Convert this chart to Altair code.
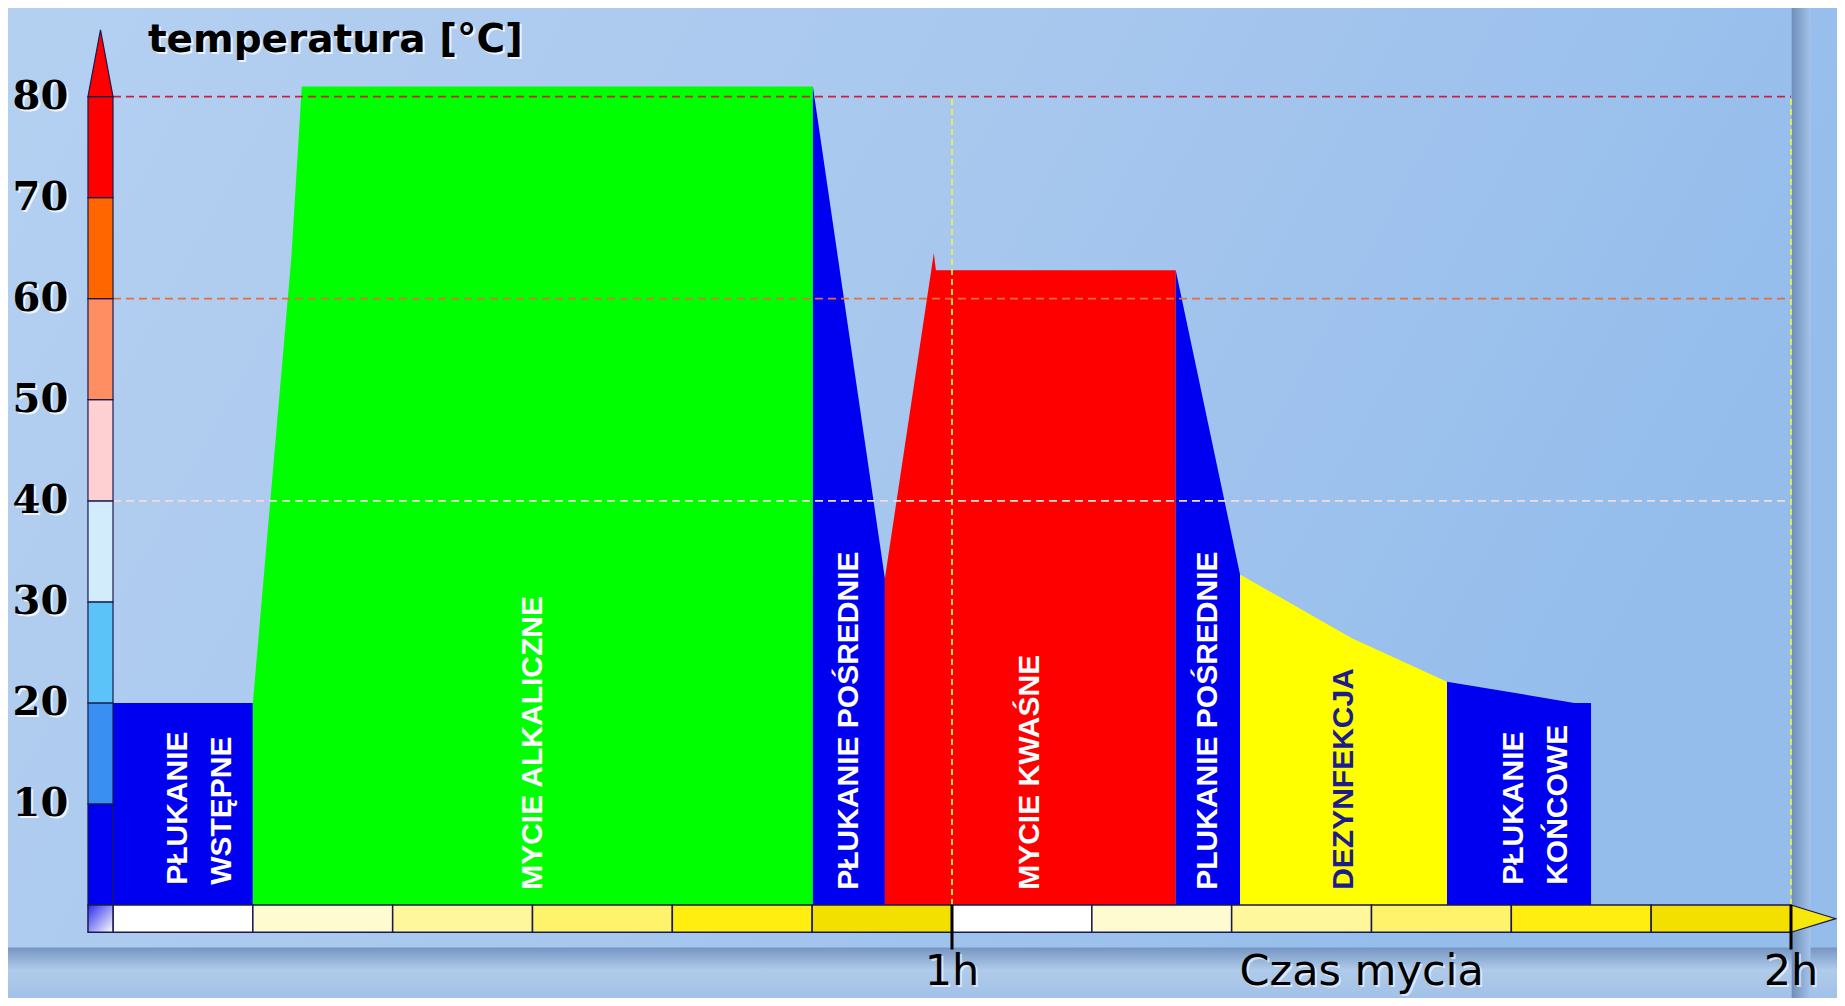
import altair as alt
import pandas as pd

# ---------------- data ----------------
phase_names = ["Płukanie wstępne", "Mycie alkaliczne", "Płukanie pośrednie I", "Mycie kwaśne",
               "Płukanie pośrednie II", "Dezynfekcja", "Płukanie końcowe"]
phase_colors = ["#0000f0", "#00ff00", "#0000f0", "#ff0000", "#0000f0", "#ffff00", "#0000f0"]
phase_t = [[0, 10], [10, 12.75, 13.5, 50.05], [50.05, 55.2], [55.2, 58.7, 58.85, 76.0],
           [76.0, 80.6], [80.6, 88.6, 95.4], [95.4, 104.5, 105.7]]
phase_temp = [[20, 20], [20, 64, 81, 81], [81, 32.3], [32.3, 64.5, 62.8, 62.8],
              [62.8, 32.7], [32.7, 26.4, 22.1], [22.1, 20.0, 20.0]]
label_text = ["PŁUKANIE\nWSTĘPNE", "MYCIE ALKALICZNE", "PŁUKANIE POŚREDNIE", "MYCIE KWAŚNE",
              "PLUKANIE POŚREDNIE", "DEZYNFEKCJA", "PŁUKANIE\nKOŃCOWE"]
label_color = ["#ffffff", "#ffffff", "#ffffff", "#ffffff", "#ffffff", "#1c1c8a", "#ffffff"]

y_ticks = [10, 20, 30, 40, 50, 60, 70, 80]
thermo_colors = ["#0000f0", "#3a8ff2", "#5cc3f8", "#d3ecfc", "#ffd0d2", "#ff8f62", "#ff6600", "#ff0000"]
bar_colors = ["#ffffff", "#fffbd0", "#fff79c", "#fff36c", "#ffee10", "#f3e000",
              "#ffffff", "#fffbd0", "#fff79c", "#fff36c", "#ffee10", "#f3e000"]
hour_values = [60, 120]
hour_labels = ["1h", "2h"]
ref_temps = [80, 60, 40]
ref_colors = ["#c8203e", "#e0703c", "#f4dada"]
x_title = "Czas mycia"
y_title = "temperatura [°C]"

# ---------------- layout ----------------
W, H = 1829, 990
XMIN, XMAX = -7.509, 123.29
YMIN, YMAX = -9.20, 88.76
xs = alt.Scale(domain=[XMIN, XMAX], nice=False, zero=False)
ys = alt.Scale(domain=[YMIN, YMAX], nice=False, zero=False)
NAVY = "#1a1a50"
TH_L, TH_R = -1.79, 0.0
BAR_B = -2.7

def X(f):
    return alt.X(f, scale=xs, axis=None)

def Y(f):
    return alt.Y(f, scale=ys, axis=None)

one = pd.DataFrame({"a": [0]})

# background gradient
bg = alt.Chart(one).mark_rect(
    fill=alt.Gradient(gradient="linear",
                      stops=[alt.GradientStop(color="#b4d0f1", offset=0),
                             alt.GradientStop(color="#a9c8ee", offset=0.5),
                             alt.GradientStop(color="#94bdec", offset=1)],
                      x1=0, y1=0, x2=1, y2=0.3)
).encode(x=alt.value(0), x2=alt.value(W), y=alt.value(0), y2=alt.value(H))

band = alt.Chart(pd.DataFrame({"t0": [XMIN], "t1": [XMAX], "y0": [-4.2], "y1": [YMIN]})).mark_rect(
    fill=alt.Gradient(gradient="linear",
                      stops=[alt.GradientStop(color="#7595c2", offset=0),
                             alt.GradientStop(color="#b0cbea", offset=0.45),
                             alt.GradientStop(color="#a2c1e8", offset=1)],
                      x1=0, y1=0, x2=0, y2=1)
).encode(x=X("t0:Q"), x2="t1:Q", y=Y("y0:Q"), y2="y1:Q")

strip = alt.Chart(pd.DataFrame({"t0": [120.05], "t1": [121.4], "y0": [YMAX], "y1": [YMIN]})).mark_rect(
    fill=alt.Gradient(gradient="linear",
                      stops=[alt.GradientStop(color="#6f8fba", offset=0),
                             alt.GradientStop(color="#a4c3ea", offset=1)],
                      x1=0, y1=0, x2=1, y2=0)
).encode(x=X("t0:Q"), x2="t1:Q", y=Y("y0:Q"), y2="y1:Q")

# phase areas
rows = []
for name, ts, tv in zip(phase_names, phase_t, phase_temp):
    for t, v in zip(ts, tv):
        rows.append({"phase": name, "t": t, "temp": v, "base": 0})
areas_df = pd.DataFrame(rows)
areas = alt.Chart(areas_df).mark_area(interpolate="linear").encode(
    x=X("t:Q"), y=alt.Y("temp:Q", scale=ys, axis=None, stack=None), y2="base:Q",
    color=alt.Color("phase:N", scale=alt.Scale(domain=phase_names, range=phase_colors), legend=None),
)

# labels
centers = [(ts[0] + ts[-1]) / 2 for ts in phase_t]
lab_df = pd.DataFrame({"t": centers, "temp": [1.5] * len(centers), "txt": label_text, "lc": label_color})
single = lab_df[~lab_df["txt"].str.contains("\n")]
double = lab_df[lab_df["txt"].str.contains("\n")].assign(temp=2.0)
lab_font = "Liberation Sans, Arial, sans-serif"
labels1 = alt.Chart(single).mark_text(angle=270, align="left", baseline="middle", font=lab_font,
                                      fontSize=30, fontWeight="bold").encode(
    x=X("t:Q"), y=Y("temp:Q"), text="txt:N", color=alt.Color("lc:N", scale=None))
labels2 = alt.Chart(double).mark_text(angle=270, align="left", baseline="middle", font=lab_font,
                                      fontSize=30, fontWeight="bold", lineBreak="\n", lineHeight=44,
                                      dy=-5).encode(
    x=X("t:Q"), y=Y("temp:Q"), text="txt:N", color=alt.Color("lc:N", scale=None))

# dashed reference lines
h_df = pd.DataFrame({"temp": ref_temps, "c": ref_colors, "t0": [0] * 3, "t1": [120] * 3})
hlines = alt.Chart(h_df).mark_rule(strokeDash=[8, 5], strokeWidth=1.8).encode(
    y=Y("temp:Q"), x=X("t0:Q"), x2="t1:Q", color=alt.Color("c:N", scale=None))
v_df = pd.DataFrame({"t": hour_values, "y0": [0, 0], "y1": [80, 80]})
vlines = alt.Chart(v_df).mark_rule(strokeDash=[6, 4], strokeWidth=1.8, color="#e8f04a").encode(
    x=X("t:Q"), y=Y("y0:Q"), y2="y1:Q")

# thermometer
th_df = pd.DataFrame({"lo": [v - 10 for v in y_ticks], "hi": y_ticks,
                      "c": thermo_colors, "x0": [TH_L] * 8, "x1": [TH_R] * 8})
thermo = alt.Chart(th_df).mark_rect(stroke=NAVY, strokeWidth=1.2).encode(
    x=X("x0:Q"), x2="x1:Q", y=Y("lo:Q"), y2="hi:Q", color=alt.Color("c:N", scale=None))
tip_df = pd.DataFrame({"y": [80, 86.6], "xa": [TH_L, (TH_L + TH_R) / 2], "xb": [TH_R, (TH_L + TH_R) / 2]})
tip = alt.Chart(tip_df).mark_area(orient="horizontal", color="#ff0000", stroke=NAVY, strokeWidth=1.2).encode(
    y=Y("y:Q"), x=X("xa:Q"), x2="xb:Q")

# time bar
bar_df = pd.DataFrame({"t0": [i * 10 for i in range(12)], "t1": [i * 10 + 10 for i in range(12)],
                       "c": bar_colors, "y0": [0] * 12, "y1": [BAR_B] * 12})
bar = alt.Chart(bar_df).mark_rect(stroke=NAVY, strokeWidth=1.5).encode(
    x=X("t0:Q"), x2="t1:Q", y=Y("y0:Q"), y2="y1:Q", color=alt.Color("c:N", scale=None))
sq = alt.Chart(pd.DataFrame({"t0": [TH_L], "t1": [TH_R], "y0": [0], "y1": [BAR_B]})).mark_rect(
    fill=alt.Gradient(gradient="linear",
                      stops=[alt.GradientStop(color="#2b2bea", offset=0),
                             alt.GradientStop(color="#ffffff", offset=1)],
                      x1=0, y1=0, x2=1, y2=1),
    stroke=NAVY, strokeWidth=1.5).encode(x=X("t0:Q"), x2="t1:Q", y=Y("y0:Q"), y2="y1:Q")
arr_df = pd.DataFrame({"t": [120, 123.2], "top": [0, BAR_B / 2], "bot": [BAR_B, BAR_B / 2]})
arrow = alt.Chart(arr_df).mark_area(color="#f6e80a", stroke=NAVY, strokeWidth=1.2).encode(
    x=X("t:Q"), y=Y("top:Q"), y2="bot:Q")
tk_df = pd.DataFrame({"t": hour_values, "y0": [0, 0], "y1": [-4.4, -4.4]})
ticks = alt.Chart(tk_df).mark_rule(color="#000000", strokeWidth=3).encode(
    x=X("t:Q"), y=Y("y0:Q"), y2="y1:Q")

# texts
hl_df = pd.DataFrame({"t": hour_values + [89.3], "temp": [-7.9] * 3, "txt": hour_labels + [x_title]})
def txt_layer(df, color, dx, dy, **kw):
    return alt.Chart(df).mark_text(color=color, dx=dx, dy=dy, **kw).encode(
        x=X("t:Q"), y=Y("temp:Q"), text="txt:N")

hl_kw = dict(font="DejaVu Sans", fontSize=43, align="center", baseline="alphabetic")
yl_df = pd.DataFrame({"t": [-3.2] * 8, "temp": y_ticks, "txt": [str(v) for v in y_ticks]})
yl_kw = dict(font="DejaVu Serif", fontSize=40, fontWeight="bold", align="right", baseline="middle")
tt_df = pd.DataFrame({"t": [2.5], "temp": [84.4], "txt": [y_title]})
tt_kw = dict(font="DejaVu Sans", fontSize=39, fontWeight="bold", align="left", baseline="alphabetic")

texts = [
    txt_layer(hl_df, "#ffffff", 2, 2, opacity=0.6, **hl_kw), txt_layer(hl_df, "#000000", 0, 0, **hl_kw),
    txt_layer(yl_df, "#ffffff", 2, 2, opacity=0.8, **yl_kw), txt_layer(yl_df, "#000000", 0, 0, **yl_kw),
    txt_layer(tt_df, "#ffffff", 2, 2, opacity=0.8, **tt_kw), txt_layer(tt_df, "#000000", 0, 0, **tt_kw),
]

chart = alt.layer(
    bg, band, strip, areas, hlines, vlines, thermo, tip, bar, sq, arrow, ticks, labels1, labels2, *texts
).properties(
    width=W, height=H, autosize=alt.AutoSizeParams(type="none"), padding=0, background="#a8c8ee"
).configure_view(stroke=None)

chart.save("out.html", embed_options={"renderer": "svg", "actions": False})
